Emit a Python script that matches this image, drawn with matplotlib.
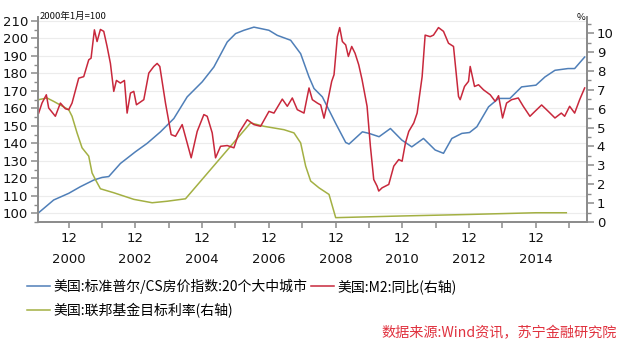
import matplotlib
matplotlib.use("Agg")
import matplotlib.pyplot as plt
from matplotlib.ticker import MultipleLocator, FixedLocator

plt.rcParams['font.family'] = ['DejaVu Sans', 'Noto Sans CJK SC']
cjk = ['Noto Sans CJK SC', 'DejaVu Sans']

# --- data (decimal years) ---
# S&P/Case-Shiller 20-city index, Jan 2000 = 100 (left axis)
cs_t = [2000.0, 2000.47, 2000.92, 2001.27, 2001.67, 2001.92, 2002.12, 2002.47, 2002.92,
        2003.27, 2003.67, 2004.07, 2004.47, 2004.92, 2005.27, 2005.67, 2005.92, 2006.17,
        2006.47, 2006.92, 2007.17, 2007.57, 2007.87, 2008.12, 2008.27, 2008.52, 2008.72,
        2008.92, 2009.22, 2009.32, 2009.72, 2009.92, 2010.22, 2010.56, 2010.9, 2011.2,
        2011.55, 2011.9, 2012.15, 2012.4, 2012.7, 2012.93, 2013.15, 2013.5, 2013.8,
        2014.14, 2014.49, 2014.92, 2015.19, 2015.49, 2015.88, 2016.08, 2016.38]
cs_v = [100.0, 107.6, 111.4, 115.2, 119.0, 120.5, 121.0, 128.5, 135.2,
        140.0, 146.6, 154.2, 166.6, 175.2, 183.7, 198.0, 202.8, 204.7,
        206.5, 204.7, 201.8, 199.0, 191.3, 178.0, 171.4, 166.6, 159.0,
        151.4, 140.5, 139.6, 146.6, 145.7, 143.8, 148.5, 141.9, 138.0,
        142.8, 136.2, 134.3, 142.8, 145.7, 146.2, 149.5, 160.9, 165.7,
        165.7, 172.3, 173.3, 178.0, 181.8, 182.8, 182.8, 189.4]

# US M2 YoY, % (right axis)
m2_t = [2000.02, 2000.12, 2000.25, 2000.32, 2000.52, 2000.67, 2000.82, 2000.92, 2001.02,
        2001.22, 2001.37, 2001.52, 2001.59, 2001.69, 2001.77, 2001.87, 2001.97, 2002.07,
        2002.17, 2002.27, 2002.35, 2002.47, 2002.59, 2002.67, 2002.77, 2002.87, 2002.95,
        2003.17, 2003.32, 2003.47, 2003.57, 2003.65, 2003.82, 2003.99, 2004.12, 2004.32,
        2004.59, 2004.77, 2004.97, 2005.07, 2005.22, 2005.32, 2005.47, 2005.67, 2005.87,
        2006.02, 2006.27, 2006.47, 2006.67, 2006.92, 2007.07, 2007.32, 2007.47, 2007.62,
        2007.77, 2007.97, 2008.12, 2008.22, 2008.37, 2008.47, 2008.57, 2008.67, 2008.8,
        2008.87, 2008.97, 2009.04, 2009.12, 2009.22, 2009.3, 2009.4, 2009.5, 2009.61,
        2009.71, 2009.86, 2009.96, 2010.06, 2010.16, 2010.21, 2010.31, 2010.51, 2010.66,
        2010.81, 2010.91, 2011.01, 2011.11, 2011.26, 2011.36, 2011.51, 2011.6, 2011.75,
        2011.85, 2012.0, 2012.15, 2012.3, 2012.45, 2012.6, 2012.65, 2012.78, 2012.9,
        2012.95, 2013.08, 2013.2, 2013.35, 2013.55, 2013.7, 2013.8, 2013.92, 2014.04,
        2014.19, 2014.39, 2014.54, 2014.74, 2014.89, 2015.09, 2015.29, 2015.49, 2015.68,
        2015.78, 2015.93, 2016.08, 2016.23, 2016.38]
m2_v = [5.77, 6.3, 6.74, 6.04, 5.6, 6.3, 6.0, 5.95, 6.3,
        7.62, 7.7, 8.59, 8.68, 10.18, 9.56, 10.2, 10.1, 9.3,
        8.4, 6.92, 7.5, 7.36, 7.5, 5.77, 6.83, 6.92, 6.21,
        6.48, 7.89, 8.24, 8.4, 8.24, 6.3, 4.63, 4.54, 5.16,
        3.4, 4.8, 5.69, 5.6, 4.72, 3.4, 4.01, 4.05, 3.93,
        4.72, 5.42, 5.16, 5.07, 5.86, 5.77, 6.51, 6.13, 6.57,
        5.95, 5.77, 7.1, 6.48, 6.3, 6.2, 5.5, 6.3, 7.45,
        7.8, 9.82, 10.3, 9.56, 9.38, 8.77, 9.3, 8.94, 8.33,
        7.54, 6.13, 4.01, 2.25, 1.9, 1.64, 1.81, 1.99, 2.96,
        3.31, 3.22, 4.19, 4.8, 5.25, 5.77, 7.7, 9.9, 9.82,
        9.9, 10.3, 10.1, 9.47, 9.3, 6.65, 6.48, 7.18, 7.45,
        8.24, 7.18, 7.27, 7.0, 6.74, 6.39, 6.69, 5.51, 6.3,
        6.48, 6.57, 6.13, 5.6, 5.86, 6.2, 5.86, 5.51, 5.77,
        5.6, 6.13, 5.77, 6.48, 7.1]

# Fed funds target rate, % (right axis)
ff_t = [2000.02, 2000.27, 2000.47, 2000.92, 2001.02, 2001.17, 2001.32, 2001.52, 2001.62,
        2001.72, 2001.87, 2002.27, 2002.87, 2003.42, 2003.87, 2004.42, 2006.37, 2006.77,
        2007.37, 2007.67, 2007.87, 2008.02, 2008.17, 2008.42, 2008.72, 2008.92, 2010.92,
        2012.92, 2014.92, 2015.83]
ff_v = [6.48, 6.57, 6.39, 5.95, 5.6, 4.72, 3.93, 3.49, 2.6,
        2.25, 1.76, 1.55, 1.2, 1.02, 1.1, 1.23, 5.25, 5.07,
        4.89, 4.72, 4.19, 2.96, 2.17, 1.81, 1.46, 0.23, 0.32,
        0.4, 0.49, 0.49]

tick_years = list(range(2000, 2016))
labels = ['美国:标准普尔/CS房价指数:20个大中城市', '美国:M2:同比(右轴)', '美国:联邦基金目标利率(右轴)']

blue = '#4f7fb8'
red = '#c8283c'
green = '#a3b043'
grey = '#8c8c8c'

fig = plt.figure(figsize=(6.26, 3.47), dpi=100)
ax = fig.add_axes([38 / 626, 1 - 222 / 347, (587 - 38) / 626, (222 - 17) / 347])
ax2 = ax.twinx()

l1, = ax.plot(cs_t, cs_v, color=blue, lw=1.1)
l3, = ax2.plot(ff_t, ff_v, color=green, lw=1.1)
l2, = ax2.plot(m2_t, m2_v, color=red, lw=1.1)

ax.set_xlim(2000.0, 2016.45)
ax.set_ylim(95, 212.3)
ax2.set_ylim(0, 10.86)

ax.yaxis.set_major_locator(FixedLocator(range(100, 211, 10)))
ax.yaxis.set_minor_locator(MultipleLocator(5))
ax2.yaxis.set_major_locator(FixedLocator(range(0, 11)))
ax2.yaxis.set_minor_locator(MultipleLocator(0.5))

xt = [y + 11 / 12 for y in tick_years]
ax.set_xticks(xt)
ax.set_xticklabels(['12\n%d' % y if y % 2 == 0 else '' for y in tick_years],
                   linespacing=1.8)

ax.grid(axis='y', color='#ececec', lw=0.8)
ax.set_axisbelow(True)

for a in (ax, ax2):
    for s in a.spines.values():
        s.set_color(grey)
        s.set_linewidth(1.3)
    a.spines['top'].set_visible(False)
    a.tick_params(which='major', length=5, width=1.1, color=grey,
                  labelsize=9.5, labelcolor='#111111', pad=2)
    a.tick_params(which='minor', length=3, width=1.0, color=grey)
ax.tick_params(axis='x', length=4, pad=3)

fig.text(40 / 626, 1 - 16.5 / 347, '2000年1月=100', fontsize=6.8, family=cjk,
         va='center', ha='left', color='#111111')
fig.text(585 / 626, 1 - 17 / 347, '%', fontsize=6.8, family=cjk,
         va='center', ha='right', color='#111111')

fig.legend([l1, l3, l2], [labels[0], labels[2], labels[1]], ncol=2,
           loc='upper left', bbox_to_anchor=(27 / 626, 1 - 279 / 347),
           frameon=False, prop={'family': cjk, 'size': 10.0},
           handlelength=1.65, handletextpad=0.25, columnspacing=0.3,
           labelspacing=0.65, borderpad=0, borderaxespad=0)

fig.text(617 / 626, 1 - 333 / 347, '数据来源:Wind资讯，苏宁金融研究院', fontsize=10.2,
         family=cjk, style='italic', color='#e0323f', ha='right', va='center')

fig.savefig('out.png', dpi=100)
